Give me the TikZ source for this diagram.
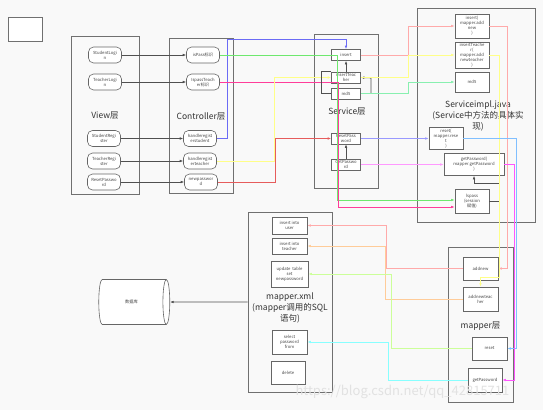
\documentclass[tikz,border=0pt]{standalone}
\usepackage{fontspec}
\setmainfont{Noto Sans CJK SC}
\usetikzlibrary{arrows.meta,shapes.geometric}

\definecolor{bg}{HTML}{F9F9F9}
\definecolor{framegray}{HTML}{707070}
\definecolor{itemgray}{HTML}{666666}
\definecolor{textgray}{HTML}{444444}
\definecolor{titlegray}{HTML}{333333}
\definecolor{linegray}{HTML}{505050}
\definecolor{wmgray}{HTML}{E2E2E2}
\definecolor{cblue}{HTML}{6B6BF5}
\definecolor{cgreen}{HTML}{6EE86E}
\definecolor{cpink}{HTML}{FF3D9A}
\definecolor{cyellow}{HTML}{FFFF88}
\definecolor{cred}{HTML}{E65C5C}
\definecolor{csalmon}{HTML}{FFAAAA}
\definecolor{cmint}{HTML}{88F0B0}
\definecolor{cperi}{HTML}{9999FF}
\definecolor{clmag}{HTML}{FF99FF}
\definecolor{csky}{HTML}{80BFFF}
\definecolor{cmag}{HTML}{FF55FF}
\definecolor{cpeach}{HTML}{FFCC99}
\definecolor{clime}{HTML}{CCFF99}
\definecolor{ccyan}{HTML}{88FFFF}

\begin{document}
\begin{tikzpicture}[x=1pt, y=-1pt, >={Latex[length=3.5pt,width=2.6pt]},
    layerbox/.style 2 args={draw=framegray, line width=0.9pt, minimum width=#1pt, minimum height=#2pt},
    layername/.style={font=\fontsize{8.5}{11}\selectfont, text=titlegray, align=center},
    item/.style 2 args={draw=itemgray, fill=white, line width=0.6pt, minimum width=#1pt, minimum height=#2pt,
        inner sep=0.5pt, align=center, font=\fontsize{4.2}{5}\selectfont, text=textgray},
    ritem/.style={item={33}{16}, rounded corners=5pt},
    sitem/.style={item={29}{11}},
    dk/.style={draw=linegray, line width=0.6pt, ->},
    wire/.style={draw=#1, line width=0.8pt, ->}]

    \fill[bg] (0,0) rectangle (543,410);
    \useasboundingbox (0,0) rectangle (543,410);

    % layers
    \node[layerbox={34}{24}, fill=white] (blank) at (25,29) {};
    \node[layerbox={68}{158}] (view) at (105,115) {};
    \node[layerbox={64}{155}] (ctrl) at (201,115.5) {};
    \node[layerbox={64}{154}] (serv) at (346,111) {};
    \node[layerbox={118}{214}] (impl) at (476,115) {};
    \node[layerbox={84}{180}] (xml) at (290,302) {};
    \node[layerbox={65}{155}] (mapper) at (480.5,324.5) {};

    \node[layername] (viewt) at (105,116) {View层};
    \node[layername] (ctrlt) at (201,116) {Controller层};
    \node[layername] (servt) at (347,112) {Service层};
    \node[layername] (implt) at (478,116) {Serviceimpl.java\\(Service中方法的具体实\\现)};
    \node[layername] (xmlt) at (290,308) {mapper.xml\\(mapper调用的SQL\\语句)};
    \node[layername] (mappert) at (480.5,326) {mapper层};

    % view
    \node[ritem] (sl) at (105,55) {StudentLogi\\n};
    \node[ritem] (tl) at (105,82) {TeacherLogi\\n};
    \node[ritem] (sr) at (104,138.5) {StudentRegi\\ster};
    \node[ritem] (tr) at (104,161) {TeacherRegi\\ster};
    \node[ritem] (rp) at (104,182) {ResetPasswo\\rd};

    % controller
    \node[ritem] (ispass) at (203,55) {isPass标识};
    \node[ritem] (ispt) at (203,82) {IspassTeach\\er标识};
    \node[ritem] (hrs) at (200,138.5) {handleregist\\erstudent};
    \node[ritem] (hrt) at (200,161) {handleregist\\erteacher};
    \node[ritem] (np) at (201,182) {newpasswor\\d};

    % service
    \node[sitem] (sins) at (346,55) {insert};
    \node[sitem] (sint) at (346,77.5) {insertTeac\\her};
    \node[sitem] (smd5) at (346,93.5) {md5};
    \node[sitem] (sreset) at (346,138.5) {ResetPass\\word};
    \node[sitem] (sget) at (346,164.5) {GetPasswo\\rd};

    % serviceimpl
    \node[item={34}{24}] (iins) at (472,26) {insert(\\mapper.add\\new\\)};
    \node[item={34}{26}] (iint) at (472,55) {insertTeache\\r(\\mapper.add\\newteacher\\)};
    \node[item={34}{20}] (imd5) at (472,82) {md5};
    \node[item={34}{22}] (ireset) at (446,138.5) {reset(\\mapper.rese\\t\\)};
    \node[item={60}{22}] (iget) at (474,164.5) {getPassword(\\mapper.getPassword\\)};
    \node[item={34}{24}] (ilspass) at (472,201) {lspass\\(session\\赋值)};

    % mapper
    \node[item={35}{23}] (madd) at (480.5,268.5) {addnew};
    \node[item={35}{24}] (maddt) at (480.5,299) {addnewteac\\her};
    \node[item={35}{23}] (mreset) at (489.5,348.5) {reset};
    \node[item={34}{24}] (mget) at (485,380) {getPassword};

    % mapper.xml
    \node[item={35}{17}] (xuser) at (289.5,225.5) {insert into\\user};
    \node[item={35}{16}] (xteach) at (289.5,246) {insert into\\teacher};
    \node[item={37}{26}] (xupd) at (289.5,274) {update~~table\\set\\newpassword};
    \node[item={35}{24}] (xsel) at (289.5,342) {select\\password\\from};
    \node[item={34}{23}] (xdel) at (288,372.5) {delete};

    \node[shape=cylinder, draw=itemgray, fill=white, line width=0.6pt, aspect=0.65,
        minimum width=45pt, minimum height=71pt, font=\fontsize{4.2}{5}\selectfont, text=textgray] (db) at (131.5,302) {数据库};

    \draw[dk] (sl) -- (ispass);
    \draw[dk] (tl) -- (ispt);
    \draw[dk] (sr) -- (hrs);
    \draw[dk] (tr) -- (hrt);
    \draw[dk] (rp) -- (np);

    \draw[wire=cblue] (hrs.east) -| (227,39) -| (sins.north);
    \draw[wire=cgreen] (ispass.east) -| (337,200) -- (ilspass.west |- 0,200);
    \draw[wire=cpink] (ispt.east) -| (338.5,207) -- (ilspass.west |- 0,207);
    \draw[wire=cyellow] (hrt.east) -| (274,77.5) -- (sint.west);
    \draw[wire=cred] (np.east) -| (275,138.5) -- (sreset.west);

    \draw[dk] (sint) -- (sins);
    \draw[draw=linegray, line width=0.6pt] (smd5.west) -- (321,93.5) |- (sint.north west);
    \draw[dk] (smd5.east) -| (371,78) -- (sint.east);
    \draw[dk] (sget) -- (sreset);

    \draw[wire=csalmon] (sins.east) -| (408,26) -- (iins.west);
    \draw[wire=cyellow] (sint.east) -| (408.5,55) -- (iint.west);
    \draw[wire=cmint] (smd5.east) -| (408,82) -- (imd5.west);
    \draw[wire=cperi] (sreset) -- (ireset);
    \draw[wire=clmag] (sget) -- (iget);

    \draw[dk] (ilspass.east) -| (499,183) -| (iget.south);

    \draw[wire=csalmon] (iins.east) -| (507,268.5) -- (madd.east);
    \draw[wire=cyellow] (iint.east) -| (499.5,277) -| (maddt.north);
    \draw[wire=csky] (ireset.east) -| (516,348.5) -- (mreset.east);
    \draw[wire=cmag] (iget.east) -| (514,380) -- (mget.east);

    \draw[wire=csalmon] (madd.west) -| (386,225.5) -- (xuser.east);
    \draw[wire=cpeach] (maddt.west) -| (385,246) -- (xteach.east);
    \draw[wire=clime] (mreset.west) -| (391,274) -- (xupd.east);
    \draw[wire=ccyan] (mget.west) -| (388,342) -- (xsel.east);

    \draw[dk] (xml.west) -- (db.east);

    \node[text=wmgray, font=\fontsize{13}{13}\selectfont, anchor=west] (wm) at (292,392) {https://blog.csdn.net/qq\_42815711};
\end{tikzpicture}
\end{document}
